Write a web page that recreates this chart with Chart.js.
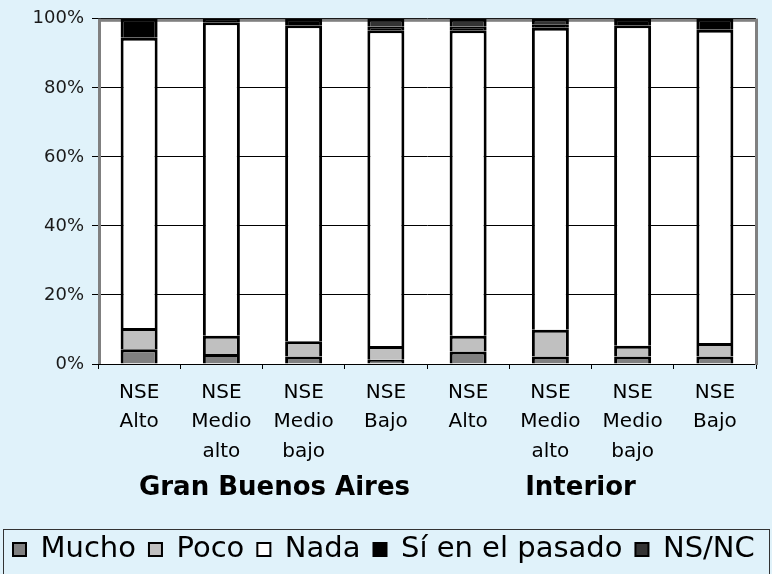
<!DOCTYPE html>
<html><head><meta charset="utf-8">
<script src="https://cdn.jsdelivr.net/npm/chart.js@4.4.1/dist/chart.umd.min.js"></script>
<style>html,body{margin:0;padding:0;background:#E0F2FA;overflow:hidden}</style>
</head><body>
<canvas id="c" width="772" height="574"></canvas>
<script>
const categories = [['NSE','Alto'],['NSE','Medio','alto'],['NSE','Medio','bajo'],['NSE','Bajo'],['NSE','Alto'],['NSE','Medio','alto'],['NSE','Medio','bajo'],['NSE','Bajo']];
const groups = ['Gran Buenos Aires','Interior'];
const groupSizes = [4,4];
const seriesNames = ['Mucho','Poco','Nada','Sí en el pasado','NS/NC'];
const mucho    = [4.3, 2.9, 2.2, 1.2, 3.6, 2.2, 2.2, 2.2];
const poco     = [6.1, 5.3, 4.4, 4.0, 4.6, 7.7, 3.1, 3.9];
const nada     = [84.1,90.8,91.5,91.5,88.5,87.5,92.8,90.7];
const siPasado = [5.5, 1.0, 1.9, 1.0, 1.0, 1.0, 1.9, 3.2];
const nsnc     = [0,   0,   0,   2.3, 2.3, 1.6, 0,   0  ];
const yTicks = [0,20,40,60,80,100];

const seriesValues = [mucho, poco, nada, siPasado, nsnc];
const seriesColors = ['#808080','#C0C0C0','#FFFFFF','#000000','#333333'];
const groupNudge = [12, -11];

const FONT = "'DejaVu Sans', Verdana, sans-serif";

const deco = {
  id: 'deco',
  beforeDraw(chart) {
    const {ctx, chartArea: a} = chart;
    ctx.save();
    ctx.fillStyle = '#E0F2FA';
    ctx.fillRect(0, 0, chart.width, chart.height);
    ctx.fillStyle = '#FFFFFF';
    ctx.fillRect(a.left, a.top, a.right - a.left, a.bottom - a.top);
    ctx.restore();
  },
  beforeDatasetsDraw(chart) {
    const {ctx, chartArea: a} = chart;
    ctx.save();
    ctx.fillStyle = '#808080';
    ctx.fillRect(a.left, a.top, 3, a.bottom - a.top);
    ctx.fillRect(a.left, a.top, a.right - a.left + 2, 3);
    ctx.fillRect(a.right - 1, a.top, 3, a.bottom - a.top + 1);
    ctx.restore();
  },
  afterDraw(chart) {
    const {ctx} = chart;
    const xs = chart.scales.x;
    ctx.save();
    ctx.fillStyle = '#000';
    ctx.font = "bold 26px " + FONT;
    ctx.textAlign = 'center';
    ctx.textBaseline = 'alphabetic';
    let start = 0;
    groups.forEach((g, i) => {
      const end = start + groupSizes[i] - 1;
      const cx = (xs.getPixelForValue(start) + xs.getPixelForValue(end)) / 2 + groupNudge[i];
      ctx.fillText(g, cx, 495);
      start = end + 1;
    });
    ctx.strokeStyle = '#333';
    ctx.lineWidth = 1;
    ctx.strokeRect(3.5, 529.5, 766, 50);
    ctx.restore();
  }
};

new Chart(document.getElementById('c'), {
  type: 'bar',
  data: {
    labels: categories,
    datasets: seriesNames.map((n, i) => ({
      label: n,
      data: seriesValues[i],
      backgroundColor: seriesColors[i],
      borderColor: '#000',
      borderWidth: 3,
      borderSkipped: 'start',
      barPercentage: 0.45,
      categoryPercentage: 1.0
    }))
  },
  options: {
    responsive: false,
    devicePixelRatio: 1,
    animation: false,
    layout: {padding: {top: 15, right: 0, left: 0, bottom: 0}},
    plugins: {
      tooltip: {enabled: false},
      legend: {
        position: 'bottom',
        align: 'start',
        labels: {
          boxWidth: 13, boxHeight: 13, padding: 13, color: '#000',
          font: {family: FONT, size: 29},
          generateLabels: (chart) => Chart.defaults.plugins.legend.labels.generateLabels(chart)
            .map(l => Object.assign(l, {lineWidth: 2, strokeStyle: '#000'}))
        }
      }
    },
    scales: {
      x: {
        stacked: true,
        grid: {offset: true, drawOnChartArea: false, color: '#000', tickColor: '#000', tickLength: 5},
        border: {color: '#000', width: 1},
        ticks: {color: '#000', font: {family: FONT, size: 20, lineHeight: 1.47}, padding: 9, maxRotation: 0, autoSkip: false},
        afterFit: s => { s.height = 158; }
      },
      y: {
        stacked: true, min: 0, max: 100,
        afterBuildTicks: s => { s.ticks = yTicks.map(v => ({value: v})); },
        grid: {color: '#000', tickColor: '#000', tickLength: 6, lineWidth: 1},
        border: {color: '#000', width: 1},
        ticks: {color: '#1a1a1a', font: {family: FONT, size: 18}, padding: 8, callback: v => v + '%'},
        afterFit: s => { s.width = 98; }
      },
      yR: {
        position: 'right', display: true,
        grid: {display: false, drawTicks: false},
        ticks: {display: false},
        border: {display: false},
        afterFit: s => { s.width = 16; }
      }
    }
  },
  plugins: [deco]
});
</script>
</body></html>
